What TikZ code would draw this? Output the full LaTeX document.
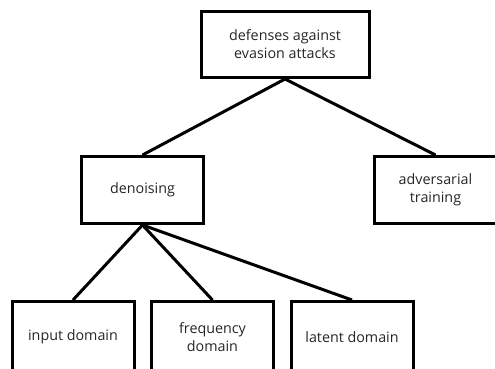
\documentclass[tikz,border=0pt]{standalone}
\usepackage{fontspec}
\setmainfont{Open Sans}
\begin{document}
\begin{tikzpicture}[x=1pt,y=-1pt,
  box/.style={draw=black,line width=3pt,fill=white,rectangle,inner sep=0pt,
    minimum width=122pt,minimum height=67pt,align=center,
    font=\fontsize{14.3}{18}\selectfont,text=black!85},
  link/.style={draw=black,line width=3pt}]
\useasboundingbox (0,0) rectangle (495,368);
\node[box,minimum width=168pt,minimum height=66pt] (root) at (285,44.5) {defenses against\\evasion attacks};
\node[box] (den) at (142.5,190) {denoising};
\node[box] (adv) at (435.5,190) {adversarial\\training};
\node[box,minimum height=71pt] (inp) at (73,337) {input domain};
\node[box,minimum height=71pt] (freq) at (212.5,337) {frequency\\domain};
\node[box,minimum height=71pt] (lat) at (352,337) {latent domain};
\draw[link] (root.south) -- (den.north);
\draw[link] (root.south) -- (adv.north);
\draw[link] (den.south) -- (inp.north);
\draw[link] (den.south) -- (freq.north);
\draw[link] (den.south) -- (lat.north);
\end{tikzpicture}
\end{document}
